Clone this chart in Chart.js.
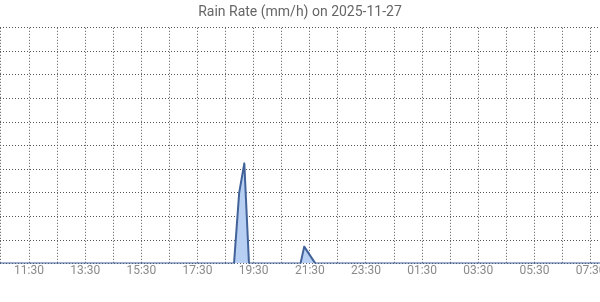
<!DOCTYPE html>
<html>
<head>
<meta charset="utf-8">
<script src="https://cdn.jsdelivr.net/npm/chart.js@4"></script>
<style>
  html, body { margin: 0; padding: 0; background: #fff; }
  #wrap { width: 600px; height: 302px; }
</style>
</head>
<body>
<div id="wrap"><canvas id="rainChart"></canvas></div>
<script>
// minutes since 00:00 on 2025-11-27 (values past 1440 are the next day)
const times = [628, 1128, 1139, 1150, 1160, 1270, 1278, 1290, 1302, 1910];
const rainRate = [0, 0, 3.0, 4.25, 0, 0, 0.72, 0.36, 0, 0];
const xMin = 628;
const xMax = 1910;
const tickTimes = [630, 690, 750, 810, 870, 930, 990, 1050, 1110, 1170, 1230,
    1290, 1350, 1410, 1470, 1530, 1590, 1650, 1710, 1770, 1830, 1890];

function fmt(mins) {
    const m = ((mins % 1440) + 1440) % 1440;
    const h = Math.floor(m / 60);
    const mm = m % 60;
    return String(h).padStart(2, '0') + ':' + String(mm).padStart(2, '0');
}

const points = times.map((t, i) => ({ x: t, y: rainRate[i] }));

new Chart('rainChart', {
    type: 'line',
    data: {
        datasets: [{
            label: 'Rain Rate',
            data: points,
            borderColor: '#42629a',
            backgroundColor: '#b7cff2',
            borderWidth: 2,
            borderJoinStyle: 'round',
            pointRadius: 0,
            tension: 0,
            fill: 'origin'
        }]
    },
    options: {
        responsive: true,
        maintainAspectRatio: false,
        animation: false,
        layout: { padding: { left: 0, right: 0, top: 0, bottom: 24 } },
        plugins: {
            legend: { display: false },
            tooltip: { enabled: false },
            title: {
                display: true,
                text: 'Rain Rate (mm/h) on 2025-11-27',
                color: '#666',
                font: { family: 'Roboto', size: 14, weight: 'normal' },
                padding: { top: 4, bottom: 7 }
            }
        },
        scales: {
            x: {
                type: 'linear',
                min: xMin,
                max: xMax,
                afterBuildTicks: scale => {
                    scale.ticks = tickTimes.map(v => ({ value: v }));
                },
                afterFit: scale => {
                    // let the last label run off the edge, like the original
                    scale.paddingLeft = 0;
                    scale.paddingRight = 0;
                },
                ticks: {
                    autoSkip: false,
                    maxRotation: 0,
                    color: '#8a8a8a',
                    padding: 0,
                    font: { family: 'Roboto', size: 12 },
                    callback: v => (((v - 630) / 60) % 2 === 1 ? fmt(v) : '')
                },
                grid: {
                    color: '#555',
                    drawTicks: false,
                    lineWidth: 1
                },
                border: { display: false, dash: [1, 2] }
            },
            y: {
                min: 0,
                max: 10,
                ticks: { display: false, stepSize: 1 },
                afterFit: scale => { scale.width = 0; },
                grid: { color: '#555', drawTicks: false },
                border: { display: false, dash: [1, 2] }
            }
        }
    }
});
</script>
</body>
</html>
